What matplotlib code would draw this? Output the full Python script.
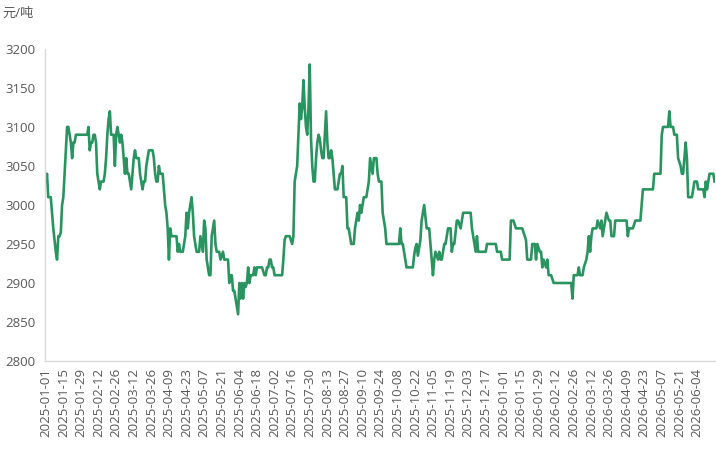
import numpy as np
import matplotlib.pyplot as plt

plt.rcParams['font.family'] = ['Open Sans', 'Noto Sans CJK SC', 'DejaVu Sans']

# tick labels, one every 14 data points
tick_labels = [
    "2025-01-01", "2025-01-15", "2025-01-29", "2025-02-12", "2025-02-26",
    "2025-03-12", "2025-03-26", "2025-04-09", "2025-04-23", "2025-05-07",
    "2025-05-21", "2025-06-04", "2025-06-18", "2025-07-02", "2025-07-16",
    "2025-07-30", "2025-08-13", "2025-08-27", "2025-09-10", "2025-09-24",
    "2025-10-08", "2025-10-22", "2025-11-05", "2025-11-19", "2025-12-03",
    "2025-12-17", "2026-01-01", "2026-01-15", "2026-01-29", "2026-02-12",
    "2026-02-26", "2026-03-12", "2026-03-26", "2026-04-09", "2026-04-23",
    "2026-05-07", "2026-05-21", "2026-06-04",
]

# price (yuan/ton), one row per 14 points
prices = [
    3030, 3040, 3010, 3010, 3010, 2990, 2970, 2955, 2940, 2930, 2960, 2960, 2965, 3000,
    3010, 3040, 3070, 3100, 3100, 3090, 3080, 3060, 3080, 3080, 3090, 3090, 3090, 3090,
    3090, 3090, 3090, 3090, 3090, 3090, 3100, 3070, 3080, 3080, 3090, 3090, 3080, 3040,
    3030, 3020, 3030, 3030, 3030, 3040, 3060, 3090, 3110, 3120, 3090, 3090, 3090, 3050,
    3090, 3100, 3090, 3080, 3090, 3080, 3060, 3040, 3060, 3040, 3040, 3030, 3020, 3040,
    3060, 3070, 3060, 3060, 3060, 3040, 3030, 3020, 3030, 3030, 3050, 3060, 3070, 3070,
    3070, 3070, 3060, 3040, 3030, 3030, 3050, 3040, 3040, 3040, 3020, 3000, 2990, 2970,
    2930, 2970, 2960, 2960, 2960, 2960, 2960, 2940, 2950, 2940, 2940, 2940, 2950, 2960,
    2990, 2970, 2990, 3000, 3010, 2990, 2960, 2950, 2940, 2940, 2940, 2960, 2950, 2940,
    2980, 2970, 2930, 2920, 2910, 2910, 2960, 2970, 2980, 2950, 2940, 2940, 2940, 2930,
    2935, 2940, 2930, 2930, 2930, 2930, 2900, 2910, 2910, 2890, 2890, 2880, 2870, 2860,
    2900, 2880, 2900, 2880, 2900, 2895, 2900, 2920, 2900, 2910, 2910, 2910, 2920, 2910,
    2920, 2920, 2920, 2920, 2920, 2915, 2910, 2910, 2920, 2920, 2930, 2930, 2920, 2920,
    2910, 2910, 2910, 2910, 2910, 2910, 2910, 2930, 2955, 2960, 2960, 2960, 2960, 2955,
    2950, 2960, 3030, 3040, 3050, 3090, 3130, 3110, 3125, 3160, 3125, 3100, 3090, 3125,
    3180, 3085, 3050, 3030, 3030, 3060, 3080, 3090, 3085, 3070, 3060, 3060, 3090, 3120,
    3080, 3060, 3060, 3070, 3060, 3040, 3020, 3020, 3020, 3030, 3040, 3040, 3050, 3010,
    3010, 3010, 2970, 2970, 2960, 2950, 2950, 2950, 2970, 2980, 2990, 2980, 3000, 2990,
    3000, 3010, 3010, 3010, 3020, 3030, 3060, 3050, 3040, 3060, 3060, 3060, 3040, 3030,
    3030, 3030, 2990, 2980, 2970, 2950, 2950, 2950, 2950, 2950, 2950, 2950, 2950, 2950,
    2950, 2950, 2970, 2950, 2950, 2940, 2930, 2920, 2920, 2920, 2920, 2920, 2920, 2935,
    2945, 2950, 2935, 2945, 2955, 2980, 2990, 3000, 2985, 2970, 2970, 2970, 2950, 2930,
    2910, 2930, 2940, 2935, 2930, 2940, 2930, 2930, 2940, 2950, 2950, 2960, 2970, 2970,
    2970, 2940, 2950, 2950, 2965, 2980, 2980, 2975, 2970, 2980, 2990, 2990, 2990, 2990,
    2990, 2990, 2990, 2970, 2960, 2950, 2940, 2960, 2940, 2940, 2940, 2940, 2940, 2940,
    2940, 2950, 2950, 2950, 2950, 2950, 2950, 2950, 2950, 2940, 2940, 2940, 2940, 2930,
    2930, 2930, 2930, 2930, 2930, 2930, 2980, 2980, 2980, 2975, 2970, 2970, 2970, 2970,
    2970, 2970, 2965, 2960, 2955, 2930, 2930, 2930, 2930, 2950, 2950, 2950, 2930, 2950,
    2945, 2940, 2940, 2920, 2930, 2925, 2920, 2930, 2910, 2910, 2910, 2905, 2900, 2900,
    2900, 2900, 2900, 2900, 2900, 2900, 2900, 2900, 2900, 2900, 2900, 2900, 2900, 2880,
    2910, 2910, 2910, 2910, 2920, 2910, 2910, 2910, 2920, 2925, 2930, 2940, 2960, 2940,
    2960, 2970, 2970, 2970, 2970, 2980, 2975, 2970, 2980, 2960, 2970, 2980, 2990, 2985,
    2980, 2980, 2960, 2960, 2960, 2980, 2980, 2980, 2980, 2980, 2980, 2980, 2980, 2980,
    2980, 2960, 2970, 2970, 2970, 2970, 2975, 2980, 2980, 2980, 2980, 2980, 3000, 3020,
    3020, 3020, 3020, 3020, 3020, 3020, 3020, 3020, 3040, 3040, 3040, 3040, 3040, 3040,
    3090, 3100, 3100, 3100, 3100, 3100, 3120, 3100, 3100, 3100, 3090, 3090, 3090, 3060,
    3055, 3050, 3040, 3040, 3060, 3080, 3060, 3010, 3010, 3010, 3010, 3020, 3030, 3030,
    3030, 3020, 3020, 3020, 3020, 3020, 3010, 3030, 3020, 3030, 3040, 3040, 3040, 3040,
    3030,
]

x = np.arange(len(prices))

fig = plt.figure(figsize=(7.16, 4.57), dpi=100)
ax = fig.add_axes([0.063, 0.21, 0.935, 0.683])

ax.plot(x, prices, color='#2a9460', linewidth=1.9, solid_joinstyle='round')

ax.set_ylim(2800, 3200)
ax.set_yticks(range(2800, 3201, 50))
ax.set_xlim(-0.5, len(prices) - 1)
ax.set_xticks(np.arange(len(tick_labels)) * 14)
ax.set_xticklabels(tick_labels, rotation=90)

for side in ['top', 'right']:
    ax.spines[side].set_visible(False)
for side in ['left', 'bottom']:
    ax.spines[side].set_color('#d9d9d9')
    ax.spines[side].set_linewidth(1)
ax.tick_params(axis='both', length=0, labelsize=9.5, colors='#595959')
ax.tick_params(axis='y', pad=7)
ax.tick_params(axis='x', pad=5)

fig.text(0.004, 0.963, '元/吨', fontsize=9.5, color='#595959')

fig.savefig('out.png', dpi=100)
